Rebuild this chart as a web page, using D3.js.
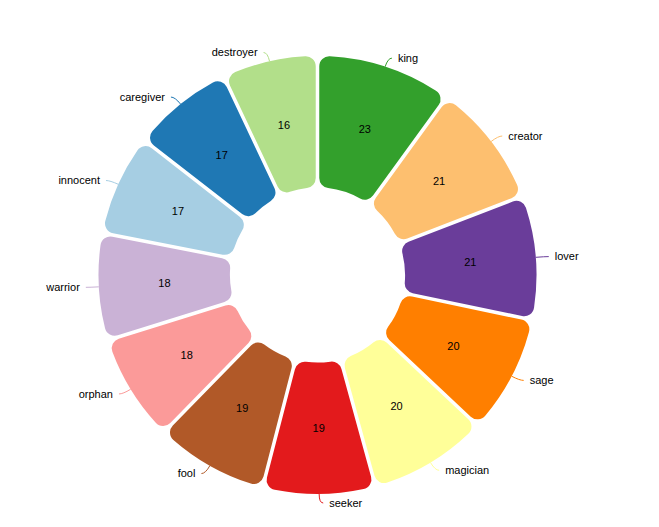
<!DOCTYPE html>
<html>
<head>
<meta charset="utf-8">
<script src="https://cdn.jsdelivr.net/npm/d3@7"></script>
<style>
  html, body { margin: 0; padding: 0; background: #fff; }
  text { font-family: "Liberation Sans", Arial, sans-serif; font-size: 11px; fill: #000; }
</style>
</head>
<body>
<svg id="chart" width="659" height="527"></svg>
<script>
const categories = ["king","creator","lover","sage","magician","seeker","fool","orphan","warrior","innocent","caregiver","destroyer"];
const values = [23,21,21,20,20,19,19,18,18,17,17,16];
const colors = ["#33a02c","#fdbf6f","#6a3d9a","#ff7f00","#ffff99","#e31a1c","#b15928","#fb9a99","#cab2d6","#a6cee3","#1f78b4","#b2df8a"];

const data = categories.map((c, i) => ({ name: c, value: values[i] }));

const cx = 317.5, cy = 275;
const R = 219, r0 = R * 0.4;

const color = d3.scaleOrdinal().domain(categories).range(colors);

const pie = d3.pie().sort(null).value(d => d.value).padAngle(0.015);
const arc = d3.arc().innerRadius(r0).outerRadius(R).cornerRadius(10);
const arcs = pie(data);

const svg = d3.select("#chart");
const g = svg.append("g").attr("transform", `translate(${cx},${cy})`);

g.selectAll("path.slice").data(arcs).join("path")
  .attr("class", "slice")
  .attr("d", arc)
  .attr("fill", d => color(d.data.name));

g.selectAll("text.val").data(arcs).join("text")
  .attr("class", "val")
  .attr("transform", d => `translate(${arc.centroid(d)})`)
  .attr("text-anchor", "middle")
  .attr("dy", "0.35em")
  .text(d => d.data.value);

function mid(d) { return (d.startAngle + d.endAngle) / 2; }
function pt(a, r) { return [Math.sin(a) * r, -Math.cos(a) * r]; }

g.selectAll("path.leader").data(arcs).join("path")
  .attr("class", "leader")
  .attr("fill", "none")
  .attr("stroke", d => color(d.data.name))
  .attr("stroke-width", 1)
  .attr("d", d => {
    const a = mid(d);
    const p0 = pt(a, R);
    const p1 = pt(a, R + 9);
    const side = a < Math.PI ? 1 : -1;
    const p2 = [p1[0] + side * 4, p1[1]];
    return `M${p0[0]},${p0[1]}Q${p1[0]},${p1[1]} ${p2[0]},${p2[1]}`;
  });

g.selectAll("text.lbl").data(arcs).join("text")
  .attr("class", "lbl")
  .attr("transform", d => {
    const a = mid(d);
    const p1 = pt(a, R + 9);
    const side = a < Math.PI ? 1 : -1;
    return `translate(${p1[0] + side * 10},${p1[1]})`;
  })
  .attr("text-anchor", d => mid(d) < Math.PI ? "start" : "end")
  .attr("dy", "0.35em")
  .text(d => d.data.name);
</script>
</body>
</html>
